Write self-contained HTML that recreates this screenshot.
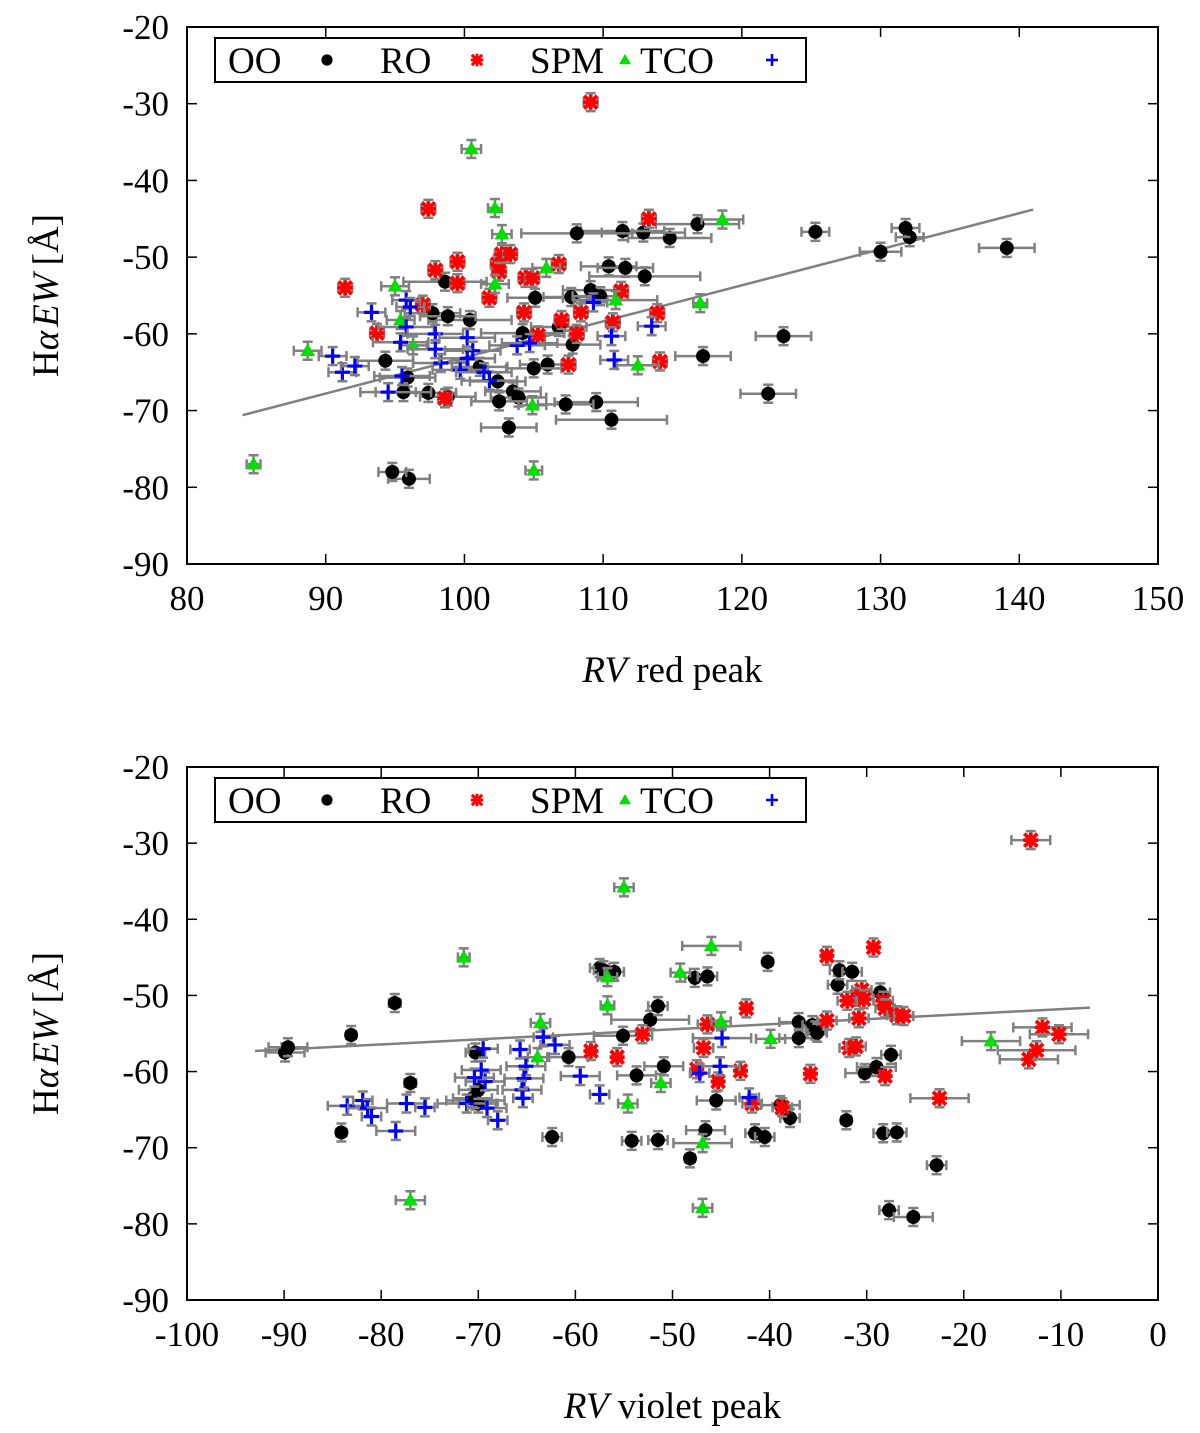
<!DOCTYPE html>
<html><head><meta charset="utf-8"><style>
html,body{margin:0;padding:0;background:#fff}
svg{display:block}
text{font-family:"Liberation Serif",serif;fill:#000}
</style></head><body>
<svg id="chart" width="1200" height="1433" viewBox="0 0 1200 1433"></svg>
<script>
// ---- Data: top panel (RV red peak vs Halpha EW) [x, y, xerr] ----
const topOO=[[139.1,-48.8,2],[132.1,-47.4,1],[131.8,-46.2,1],[130,-49.3,1.5],[125.3,-46.7,1],[123,-60.3,2],[121.9,-67.8,2],[117.2,-62.9,2],[116.8,-45.7,3],[114.8,-47.5,3],[112.9,-46.8,3],[111.4,-46.6,3],[108.1,-46.9,4],[110.4,-51.2,2],[111.6,-51.4,2],[113,-52.5,4],[110.6,-71.2,4],[109.5,-68.9,3],[107.3,-69.2,2],[109.1,-54.3,2],[107.7,-55.2,2],[109.8,-55.1,2],[107.8,-61.4,2],[106.8,-59.1,2],[106,-64,2],[105,-64.5,2],[105.1,-55.3,2],[104.2,-59.9,3],[103.2,-72.2,2],[103.5,-67.5,2],[103.9,-68.3,2],[102.4,-66.2,2],[102.5,-68.8,2],[100.4,-58.2,3],[101.1,-64.3,2],[98.6,-53.2,3],[97.7,-57.3,2],[98.8,-57.7,2],[98.8,-68.2,2],[97.4,-67.7,2],[96,-78.9,1.5],[94.8,-78,1],[95.9,-65.7,2],[95.6,-67.6,2],[94.3,-63.5,2]];
const topRO=[[109.1,-29.8,0.5],[97.4,-43.7,0.5],[113.3,-45,0.5],[91.4,-54,0.5],[97.9,-51.7,0.5],[99.5,-50.6,0.5],[99.5,-53.4,0.5],[102.4,-50.9,0.5],[102.7,-49.6,0.5],[103.3,-49.6,0.5],[102.5,-51.9,0.5],[101.8,-55.3,0.5],[104.4,-52.7,0.5],[104.9,-52.7,0.5],[104.3,-57.2,0.5],[106.8,-50.9,0.5],[107,-58.2,0.5],[108.4,-57.2,0.5],[107.5,-64,0.5],[108.1,-60,0.5],[110.7,-58.5,0.5],[111.3,-54.4,0.5],[113.9,-57.3,0.5],[114.1,-63.6,0.5],[93.7,-59.9,0.5],[97,-56.2,0.5],[98.6,-68.4,0.5],[105.3,-60.2,0.5]];
const topSPM=[[84.8,-77,0.5],[88.7,-62.2,1],[95,-53.8,1],[100.5,-35.9,0.7],[102.2,-43.6,0.5],[102.7,-47,0.7],[102.2,-53.5,1],[105.9,-51.4,1],[104.9,-69.3,1],[105,-77.8,0.6],[96.3,-61.5,1],[95.4,-58.2,1],[110.9,-55.6,3],[112.5,-64.1,1.5],[117,-56,0.5],[118.6,-45.1,1.5]];
const topTCO=[[90.5,-62.9,1],[91.2,-65,1],[92.1,-64.2,1],[93.3,-57.2,1],[95.8,-55.6,1],[96.1,-56.5,1],[95.8,-59.1,2],[95.4,-61.1,2],[94.5,-67.6,2],[95.5,-65.5,2],[97.9,-60,2],[97.9,-62,2],[98.3,-63.8,2],[99.7,-64.7,2],[100.2,-60.5,2],[100.6,-62.2,2],[100.2,-63.2,2],[101.8,-66.1,2],[101.4,-65,2],[103.8,-61.5,2],[104.7,-61.2,2],[109.3,-55.9,1],[110.6,-60.3,1],[110.8,-63.4,1],[113.5,-59,1]];
const topFit=[[84,-70.6],[141,-43.8]];
// ---- Data: bottom panel (RV violet peak) ----
const botOO=[[-89.9,-57.5,2],[-89.6,-56.8,2],[-84.1,-68,0.5],[-83.1,-55.2,0.5],[-78.6,-51,0.6],[-77,-61.5,0.6],[-70.3,-57.5,1],[-70.3,-63.8,3],[-70,-64.2,2],[-70.6,-63.5,2],[-70,-62.4,2],[-62.4,-68.6,1],[-60.7,-58.1,2],[-57.5,-46.4,1],[-57.1,-46.7,1],[-56,-46.9,1],[-55.1,-55.3,3],[-53.7,-60.5,2],[-54.2,-69.1,1],[-52.3,-53.2,4],[-51.5,-51.4,1],[-50.9,-59.3,2],[-51.5,-69,1],[-48.2,-71.4,0.5],[-47.7,-47.7,1],[-46.4,-47.5,1],[-45.5,-63.8,2],[-46.6,-67.7,2],[-40.2,-45.6,0.5],[-38.9,-64.4,2],[-37.9,-66.1,1],[-41.5,-68.1,1],[-40.5,-68.6,1],[-37,-53.5,2],[-37,-55.6,2],[-35.6,-53.9,1],[-35.3,-54.6,1],[-35.1,-54.9,1],[-33,-48.6,1],[-32.8,-46.7,1],[-31.5,-46.9,1],[-32.1,-66.4,0.5],[-30.2,-60.2,2],[-29,-59.4,2],[-28.6,-49.6,1],[-27.5,-57.8,1],[-28.3,-68.1,1],[-26.9,-68,1],[-27.7,-78.2,1],[-25.2,-79.1,2],[-22.8,-72.3,1]];
const botRO=[[-13.1,-29.6,2],[-29.3,-43.7,0.5],[-34.1,-44.8,0.5],[-30.5,-49.3,1],[-31.1,-50.2,1],[-30.3,-50.5,1],[-32,-50.7,1],[-28.3,-50.7,1],[-28.1,-51.7,1],[-26.9,-52.6,1],[-30.8,-53,1],[-31.8,-56.9,1],[-31.1,-56.7,1],[-26.2,-52.7,1],[-28.1,-60.6,0.5],[-35.8,-60.3,0.5],[-34.1,-53.3,1],[-42.4,-51.7,0.5],[-43,-59.9,0.5],[-45.3,-61.3,0.5],[-46.8,-56.9,1],[-46.4,-53.8,1],[-47.5,-59.7,0.5],[-38.7,-64.7,1],[-41.8,-64.2,1],[-55.7,-58.1,0.5],[-53.1,-55.1,0.5],[-58.4,-57.3,0.5],[-22.5,-63.5,3],[-13.3,-58.4,3],[-12.5,-57.2,4],[-11.9,-54.2,3],[-10.2,-55.1,3]];
const botSPM=[[-71.5,-45,0.6],[-77,-76.9,1.5],[-55,-35.8,1],[-46,-43.5,3],[-49.2,-47,1],[-56.7,-47.6,1],[-63.6,-53.6,1],[-56.7,-51.3,0.7],[-63.9,-58.1,1],[-54.6,-64.2,1],[-51.2,-61.5,1],[-46.9,-69.4,3],[-46.9,-77.9,1],[-45,-53.4,1],[-39.9,-55.7,1.5],[-17.2,-56,3]];
const botTCO=[[-83.5,-64.5,2],[-81.9,-63.8,1],[-81.4,-64.8,2],[-81,-65.9,1],[-78.5,-67.8,2],[-77.4,-64.2,2],[-75.5,-64.7,1],[-71.2,-64.2,3],[-69.3,-61.3,2],[-69.5,-57,1.5],[-69.7,-59.8,2],[-70.4,-60.8,2],[-69.1,-64.8,2],[-68,-66.4,1],[-65.7,-57.1,1],[-65.1,-59.3,2],[-65.3,-60.9,2],[-65.5,-62.4,2],[-65.4,-63.5,1],[-63.3,-55.5,1],[-62.1,-56.5,1.5],[-59.5,-60.6,2],[-57.5,-63,1],[-44.9,-55.6,3],[-45.1,-59.3,2],[-47.2,-60.2,1],[-42.1,-63.4,1]];
const botFit=[[-93,-57.3],[-7,-51.6]];
const topXTicks=[80,90,100,110,120,130,140,150];
const botXTicks=[-100,-90,-80,-70,-60,-50,-40,-30,-20,-10,0];
const yTicks=[-20,-30,-40,-50,-60,-70,-80,-90];
const legendLabels=["OO","RO","SPM","TCO"];

const NS="http://www.w3.org/2000/svg";
const svg=document.getElementById('chart');
function mk(tag,attrs,parent){const e=document.createElementNS(NS,tag);for(const k in attrs)e.setAttribute(k,attrs[k]);(parent||svg).appendChild(e);return e;}

function panel(cfg){
  const g=mk('g',{});
  
  
  const L=187,R=1158,T=cfg.top,B=cfg.bottom;
  const sx=v=>L+(v-cfg.xmin)/(cfg.xmax-cfg.xmin)*(R-L);
  const sy=v=>T+(v-(-20))/(-90-(-20))*(B-T);
  cfg.xticks.forEach(t=>{
    const x=sx(t);
    mk('line',{x1:x,x2:x,y1:B,y2:B-10,stroke:'#000','stroke-width':1.5},g);
    mk('line',{x1:x,x2:x,y1:T,y2:T+10,stroke:'#000','stroke-width':1.5},g);
    const tx=mk('text',{x:x,y:B+46,'text-anchor':'middle','font-size':35},g);
    tx.textContent=t;
    
    
  });
  yTicks.forEach(t=>{
    const y=sy(t);
    mk('line',{x1:L,x2:L+10,y1:y,y2:y,stroke:'#000','stroke-width':1.5},g);
    mk('line',{x1:R,x2:R-10,y1:y,y2:y,stroke:'#000','stroke-width':1.5},g);
    const ty=mk('text',{x:L-18,y:y+12,'text-anchor':'end','font-size':35},g);
    ty.textContent=t;
    
    
  });
  const f=cfg.fit;
  const fl=mk('line',{x1:sx(f[0][0]),y1:sy(f[0][1]),x2:sx(f[1][0]),y2:sy(f[1][1]),stroke:'#808080','stroke-width':2.5},g);
  
  
  const draw=(data,kind)=>{
    data.forEach(d=>{
      const x=sx(d[0]),y=sy(d[1]);
      const x1=sx(d[0]-d[2]),x2=sx(d[0]+d[2]);
      const ye=9;
      const eg=mk('g',{stroke:'#808080','stroke-width':2.5,fill:'none'},g);
      
      
      mk('line',{x1:x1,x2:x2,y1:y,y2:y},eg);
      mk('line',{x1:x1,x2:x1,y1:y-5,y2:y+5},eg);
      mk('line',{x1:x2,x2:x2,y1:y-5,y2:y+5},eg);
      mk('line',{x1:x,x2:x,y1:y-ye,y2:y+ye},eg);
      mk('line',{x1:x-5,x2:x+5,y1:y-ye,y2:y-ye},eg);
      mk('line',{x1:x-5,x2:x+5,y1:y+ye,y2:y+ye},eg);
      let m=marker(kind,x,y,g);
      
      
    });
  };
  draw(cfg.oo,'oo');draw(cfg.ro,'ro');draw(cfg.spm,'spm');draw(cfg.tco,'tco');
  const fr=mk('rect',{x:L,y:T,width:R-L,height:B-T,fill:'none',stroke:'#000','stroke-width':2},g);
  
  
  const lg=mk('g',{},g);
  
  
  const ly=T+11;
  mk('rect',{x:215,y:ly,width:591,height:44,fill:'#fff',stroke:'#000','stroke-width':2},lg);
  const lx=[228,380,530,640], mx=[327,477,625,772], kinds=['oo','ro','spm','tco'];
  legendLabels.forEach((s,i)=>{
    const t=mk('text',{x:lx[i],y:ly+35,'font-size':37},lg);
    t.textContent=s;
    
    
    const lm=marker(kinds[i],mx[i],ly+22,lg,0.8);
    
    
  });
  const yt=mk('text',{transform:`translate(58,${(T+B)/2}) rotate(-90)`,'text-anchor':'middle','font-size':37},g);
  yt.innerHTML='H<tspan font-style="italic">α</tspan><tspan font-style="italic" dx="4">EW</tspan><tspan dx="8">[Å]</tspan>';
  
  
  const xt=mk('text',{x:(L+R)/2,y:B+118,'text-anchor':'middle','font-size':37},g);
  xt.innerHTML='<tspan font-style="italic">RV</tspan> '+cfg.xlabel;
  
  
}
function marker(kind,x,y,parent,s){
  s=s||1;
  const mg=mk('g',{},parent);
  if(kind==='oo'){mk('circle',{cx:x,cy:y,r:7*s,fill:'#000'},mg);}
  else if(kind==='ro'){
    const r=6.5*s;
    mk('path',{d:`M${x-r},${y-r}L${x+r},${y+r}M${x-r},${y+r}L${x+r},${y-r}M${x},${y-r-1}L${x},${y+r+1}M${x-r-1},${y}L${x+r+1},${y}`,stroke:'#f00','stroke-width':3.8*s,fill:'none'},mg);
  } else if(kind==='spm'){
    const r=7.5*s;
    mk('path',{d:`M${x},${y-r}L${x+r},${y+r*0.7}L${x-r},${y+r*0.7}Z`,fill:'#00e000'},mg);
  } else {
    const r=7.5*s;
    mk('path',{d:`M${x-r},${y}L${x+r},${y}M${x},${y-r}L${x},${y+r}`,stroke:'#0000ff','stroke-width':3.2*s,fill:'none'},mg);
  }
  return mg;
}
panel({name:'top-panel',top:27,bottom:564,xmin:80,xmax:150,xticks:topXTicks,oo:topOO,ro:topRO,spm:topSPM,tco:topTCO,fit:topFit,xlabel:'red peak'});
panel({name:'bottom-panel',top:767,bottom:1300,xmin:-100,xmax:0,xticks:botXTicks,oo:botOO,ro:botRO,spm:botSPM,tco:botTCO,fit:botFit,xlabel:'violet peak'});
</script>
</body></html>
